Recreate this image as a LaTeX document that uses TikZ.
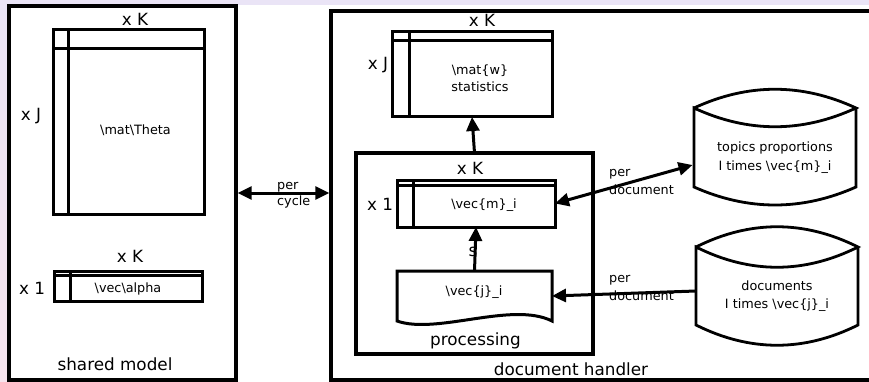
\documentclass[tikz,border=0pt]{standalone}
\usepackage{fontspec}
\setmainfont{DejaVu Sans}
\usetikzlibrary{arrows.meta,calc}

\definecolor{lavtop}{HTML}{EAE4F6}
\definecolor{lavbot}{HTML}{F6E4EE}

\begin{document}
\begin{tikzpicture}[x=1pt,y=-1pt,
  frame/.style={draw, line width=3.4pt, rectangle, inner sep=0pt},
  matbox/.style={draw, line width=3pt, rectangle, inner sep=0pt, outer sep=0pt},
  body/.style={rectangle, inner sep=0pt, outer sep=0pt},
  rule/.style={line width=3pt},
  vessel/.style={line width=2.8pt},
  big/.style={font=\fontsize{16.8}{19}\selectfont, inner sep=0pt},
  small/.style={font=\fontsize{12.8}{17}\selectfont, align=center, inner sep=0pt},
  >={Triangle[length=14pt,width=13pt]},
  arr/.style={line width=3pt, ->},
  darr/.style={line width=3pt, <->},
]
\clip (0,0) rectangle (869,382);
\useasboundingbox (0,0) rectangle (869,382);

% backdrop
\shade[top color=lavtop, bottom color=lavbot] (0,0) rectangle (869,382);
\fill[white] (8,5) rectangle (869,382);

% outer frames
\node[frame, minimum width=227, minimum height=374] (shared) at (122.5,193) {};
\node[frame, minimum width=560, minimum height=369] (handler) at (611,195.5) {};
\node[big] (sharedlbl) at (115,364) {shared model};
\node[big] (handlerlbl) at (571,369) {document handler};

% Theta matrix
\node[matbox, minimum width=151, minimum height=184] (theta) at (128.5,122) {};
\draw[rule] ($(theta.north west)+(15,0)$) -- ($(theta.south west)+(15,0)$);
\draw[rule] ($(theta.north west)+(0,19)$) -- ($(theta.north east)+(0,19)$);
\node[big] (thetaK) at (135,19) {x K};
\node[big] (thetaJ) at (31,116) {x J};
\node[small] (thetatxt) at (135.5,130) {\textbackslash mat\textbackslash Theta};

% alpha vector
\node[matbox, minimum width=148, minimum height=30] (alpha) at (128,286) {};
\draw[rule] ($(alpha.north west)+(16,0)$) -- ($(alpha.south west)+(16,0)$);
\draw[rule] ($(alpha.north west)+(0,4)$) -- ($(alpha.north east)+(0,4)$);
\node[big] (alphaK) at (130,256) {x K};
\node[big] (alpha1) at (32,288) {x 1};
\node[small] (alphatxt) at (128,289) {\textbackslash vec\textbackslash alpha};

% per cycle exchange
\draw[darr] (shared.east) -- (shared.east -| handler.west);
\node[small, align=left, anchor=west, font=\fontsize{12.8}{16}\selectfont] (cyclelbl) at (277,195) {per\\cycle};

% W statistics
\node[matbox, minimum width=160, minimum height=85] (W) at (472,74.5) {};
\draw[rule] ($(W.north west)+(17,0)$) -- ($(W.south west)+(17,0)$);
\draw[rule] ($(W.north west)+(0,9)$) -- ($(W.north east)+(0,9)$);
\node[big] (WK) at (482,20) {x K};
\node[big] (WJ) at (378,65) {x J};
\node[small] (Wtxt) at (480,78.5) {\textbackslash mat\{w\}\\statistics};

% processing block
\node[matbox, line width=3.2pt, minimum width=237, minimum height=201] (proc) at (474.5,253.5) {};
\node[big] (proclbl) at (475.5,341) {processing};
\node[big] (procK) at (470,168) {x K};

% m vector
\node[matbox, minimum width=158, minimum height=47] (mvec) at (476,203.5) {};
\draw[rule] ($(mvec.north west)+(16,0)$) -- ($(mvec.south west)+(16,0)$);
\draw[rule] ($(mvec.north west)+(0,5)$) -- ($(mvec.north east)+(0,5)$);
\node[big] (m1) at (380,204) {x 1};
\node[small] (mtxt) at (484,205) {\textbackslash vec\{m\}\_i};

% j document
\node[body, minimum width=155, minimum height=50] (jdoc) at (474.5,296) {};
\draw[rule, line join=miter] (jdoc.south west) -- (jdoc.north west) -- (jdoc.north east) -- (jdoc.south east)
  .. controls +(-40,-20) and +(40,14) .. (jdoc.south west) -- cycle;
\node[small] (jtxt) at (474,292) {\textbackslash vec\{j\}\_i};

% internal flows
\draw[arr] (proc.north) -- (W.south);
\draw[arr] (jdoc.north) -- (mvec.south);
\node[big] (slbl) at (473,252) {s};

% topics proportions store
\node[body, minimum width=162, minimum height=79] (topics) at (775,147.5) {};
\draw[vessel] (topics.north west) .. controls +(54,-25) and +(-54,-25) .. (topics.north east)
  .. controls +(-54,25) and +(54,25) .. (topics.north west) -- (topics.south west)
  .. controls +(54,24) and +(-54,24) .. (topics.south east) -- (topics.north east);
\node[small, font=\fontsize{12.8}{19}\selectfont] (topicstxt) at (775,157.5) {topics proportions\\I times \textbackslash vec\{m\}\_i};

% documents store
\node[body, minimum width=162, minimum height=78] (docs) at (777,286) {};
\draw[vessel] (docs.north west) .. controls +(54,-27) and +(-54,-27) .. (docs.north east)
  .. controls +(-54,27) and +(54,27) .. (docs.north west) -- (docs.south west)
  .. controls +(54,27) and +(-54,27) .. (docs.south east) -- (docs.north east);
\node[small, font=\fontsize{12.8}{18}\selectfont] (docstxt) at (777,296) {documents\\I times \textbackslash vec\{j\}\_i};

% per document exchanges
\draw[darr] (mvec.east) -- ($(topics.west)+(-1.5,17.5)$);
\draw[arr] ($(docs.west)+(0,5)$) -- (jdoc.east);
\node[small, align=left, anchor=west, font=\fontsize{12.8}{18}\selectfont] (perdocA) at (609,182) {per\\document};
\node[small, align=left, anchor=west, font=\fontsize{12.8}{18}\selectfont] (perdocB) at (609,288) {per\\document};
\end{tikzpicture}
\end{document}
